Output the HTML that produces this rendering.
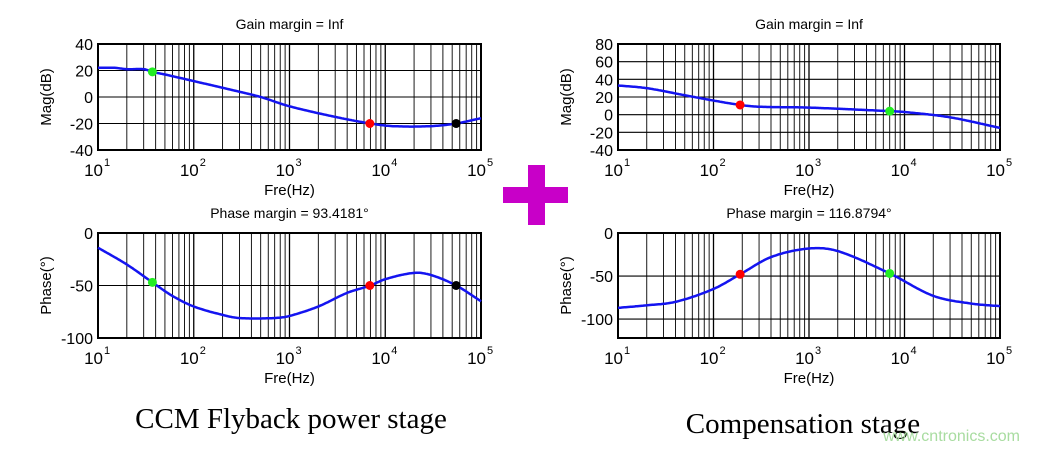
<!DOCTYPE html>
<html><head><meta charset="utf-8"><style>
body{margin:0;background:#fff;width:1041px;height:449px;overflow:hidden}
svg{display:block}
</style></head><body>
<svg id="s" width="1041" height="449" xmlns="http://www.w3.org/2000/svg" font-family="Liberation Sans, sans-serif"></svg>
<script>
const s=document.getElementById('s');let h='';
function plot(x0,x1,y0,y1,vmax,vmin,ticks,ylabel,title,data,marks){
  const X=f=>x0+(Math.log10(f)-1)/4*(x1-x0);
  const Y=v=>y0+(vmax-v)/(vmax-vmin)*(y1-y0);
  h+=`<text x="${(x0+x1)/2}" y="${y0-15}" font-size="14" text-anchor="middle">${title}</text>`;
  for(let d=1;d<5;d++)for(let m=1;m<10;m++){const x=X(m*Math.pow(10,d));if(x>x0&&x<x1)h+=`<line x1="${x}" x2="${x}" y1="${y0}" y2="${y1}" stroke="#000" stroke-width="${m==1?1.3:0.9}"/>`;}
  ticks.forEach(t=>{const y=Y(t);if(y>y0+1&&y<y1-1)h+=`<line x1="${x0}" x2="${x1}" y1="${y}" y2="${y}" stroke="#000" stroke-width="1.1"/>`;
    h+=`<text x="${x0-5}" y="${y+6}" font-size="16" text-anchor="end">${t}</text>`;});
  h+=`<rect x="${x0}" y="${y0}" width="${x1-x0}" height="${y1-y0}" fill="none" stroke="#000" stroke-width="2"/>`;
  for(let d=1;d<=5;d++){const x=X(Math.pow(10,d));h+=`<text x="${x+5}" y="${y1+26}" font-size="17" text-anchor="end">10</text><text x="${x+6}" y="${y1+16}" font-size="11">${d}</text>`;}
  h+=`<text x="${(x0+x1)/2}" y="${y1+45}" font-size="15" text-anchor="middle">Fre(Hz)</text>`;
  h+=`<text transform="translate(${x0-47},${(y0+y1)/2}) rotate(-90)" font-size="15" text-anchor="middle">${ylabel}</text>`;
  const L=data.map(p=>[Math.log10(p[0]),p[1]]);const n=L.length;
  const m=L.map((p,i)=>{const a=L[Math.max(0,i-1)],b=L[Math.min(n-1,i+1)];return (b[1]-a[1])/(b[0]-a[0]);});
  let pts=[];for(let i=0;i<=300;i++){const lf=1+4*i/300;let j=0;while(j<n-2&&L[j+1][0]<lf)j++;
    const a=L[j],b=L[j+1],dx=b[0]-a[0],t=(lf-a[0])/dx;
    const t2=t*t,t3=t2*t;
    const v=(2*t3-3*t2+1)*a[1]+(t3-2*t2+t)*dx*m[j]+(-2*t3+3*t2)*b[1]+(t3-t2)*dx*m[j+1];
    pts.push(`${(x0+(lf-1)/4*(x1-x0)).toFixed(1)},${Y(v).toFixed(1)}`);}
  h+=`<polyline points="${pts.join(' ')}" fill="none" stroke="#1414f0" stroke-width="2.5"/>`;
  marks.forEach(m=>h+=`<circle cx="${X(m[0])}" cy="${Y(m[1])}" r="4.5" fill="${m[2]}"/>`);
}
plot(98,481,44,150,40,-40,[40,20,0,-20,-40],'Mag(dB)','Gain margin = Inf',
 [[10,22],[15,22],[20,21],[30,21],[37,19],[50,17],[100,12],[300,4],[500,0],[1000,-7],[3000,-15],[7000,-20],[12000,-22],[30000,-22],[55000,-20],[100000,-16]],
 [[37,19,'#22ee22'],[6900,-20,'#ff0000'],[55000,-20,'#000']]);
plot(98,481,233,338,0,-100,[0,-50,-100],'Phase(°)','Phase margin = 93.4181°',
 [[10,-14],[20,-30],[37,-47],[60,-60],[100,-70],[200,-78],[300,-81],[700,-81],[1000,-79],[2000,-70],[4000,-57],[7000,-50],[10000,-44],[20000,-38],[30000,-40],[55000,-50],[100000,-65]],
 [[37,-47,'#22ee22'],[6900,-50,'#ff0000'],[55000,-50,'#000']]);
plot(618,1000,44,150,80,-40,[80,60,40,20,0,-20,-40],'Mag(dB)','Gain margin = Inf',
 [[10,33],[20,30],[50,22],[100,16],[190,11],[300,9],[1000,8],[7000,4],[10000,3],[30000,-3],[100000,-15]],
 [[190,11,'#ff0000'],[7000,4,'#22ee22']]);
plot(618,1000,233,338,0,-122,[0,-50,-100],'Phase(°)','Phase margin = 116.8794°',
 [[10,-87],[20,-84],[40,-80],[100,-65],[190,-48],[400,-28],[1000,-18],[2000,-21],[7000,-47],[20000,-73],[50000,-82],[100000,-85]],
 [[190,-48,'#ff0000'],[7000,-47,'#22ee22']]);
h+=`<rect x="528" y="165" width="17" height="60" fill="#c800c8"/><rect x="503" y="187" width="65" height="16" fill="#c800c8"/>`;
h+=`<text x="291" y="428" font-family="Liberation Serif, serif" font-size="29" text-anchor="middle">CCM Flyback power stage</text>`;
h+=`<text x="803" y="433" font-family="Liberation Serif, serif" font-size="29" text-anchor="middle">Compensation stage</text>`;
h+=`<text x="1020" y="441" font-size="16" fill="#a8dca0" text-anchor="end">www.cntronics.com</text>`;
s.innerHTML=h;
</script>
</body></html>
